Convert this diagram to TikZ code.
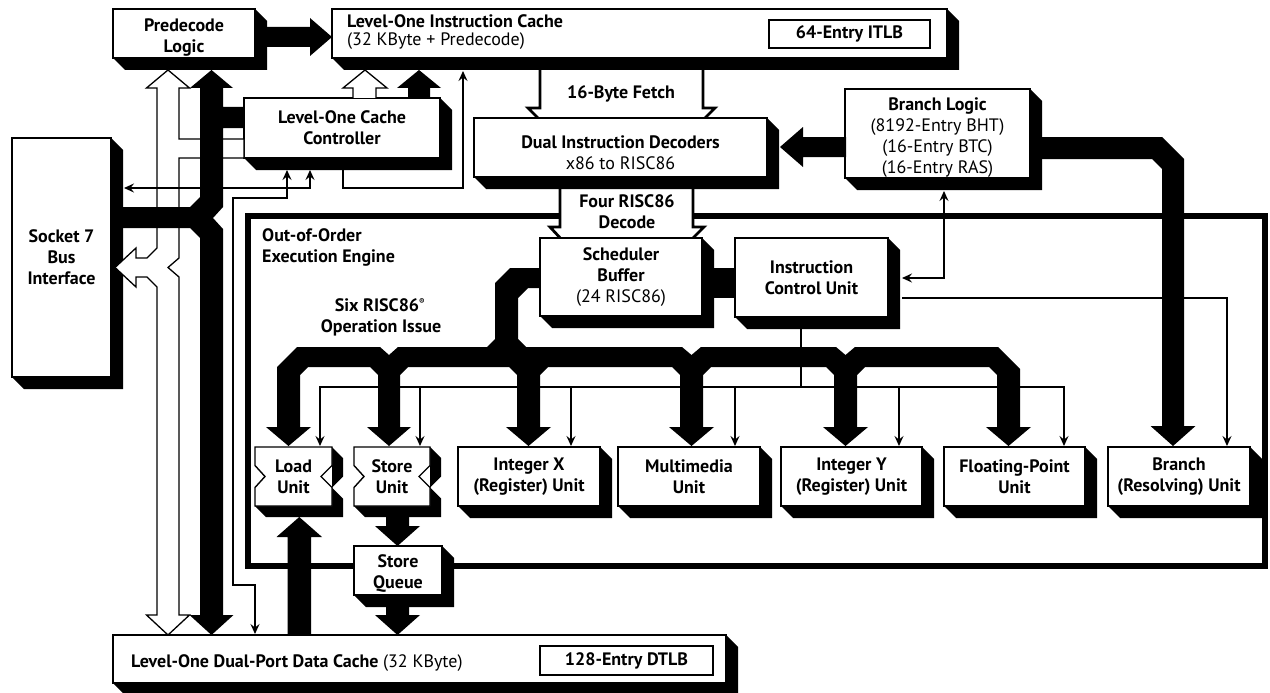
\documentclass[tikz,border=0pt]{standalone}
\usepackage{fontspec}
\setmainfont{PT Sans}
\usetikzlibrary{arrows.meta}
\newcommand{\fs}{\fontsize{18}{21}\selectfont}
% #1 text shift down, #2 name, #3 x1, #4 y1, #5 x2, #6 y2, #7 text
\newcommand{\mybox}[7][0]{%
  \fill[black] (#5,#4) -- ({#5+12},{#4+12}) -- ({#5+12},{#6+12}) -- ({#3+12},{#6+12}) -- (#3,#6) -- (#5,#6) -- cycle;
  \node[bx, minimum width={#5-#3}, minimum height={#6-#4}] (#2) at ({(#3+#5)/2},{(#4+#6)/2}) {};
  \node[lbl] (#2-t) at ([yshift={-(#1)}]#2.center) {#7};}
% #1 name, #2 x1, #3 y1, #4 x2, #5 y2, #6 text
\newcommand{\notchbox}[6]{%
  \pgfmathsetmacro{\ym}{(#3+#5)/2}
  \fill[black] (#4,#3) -- ({#4+11},{#3+11}) -- ({#4+11},{\ym}) -- (#4,{\ym+11}) -- ({#4+11},{\ym+22}) -- ({#4+11},{#5+11}) -- ({#2+11},{#5+11}) -- (#2,#5) -- (#4,#5) -- cycle;
  \draw[fill=white, line width=1.4pt] (#2,#3) -- (#4,#3) -- (#4,{\ym-11}) -- ({#4-11},\ym) -- (#4,{\ym+11}) -- (#4,#5) -- (#2,#5) -- (#2,{\ym+11}) -- ({#2+10},\ym) -- (#2,{\ym-11}) -- cycle;
  \node[lbl] (#1) at ({(#2+#4)/2},\ym) {#6};}
\begin{document}
\begin{tikzpicture}[x=1pt,y=-1pt,
  bx/.style={draw, fill=white, line width=1.4pt, inner sep=0pt, outer sep=0pt},
  lbl/.style={inner sep=0pt, align=center, font=\fs\bfseries},
  wire/.style={line width=1.2pt},
  arr/.style={-{Stealth[length=10pt,width=9pt,inset=3.5pt]}},
  arrs/.style={{Stealth[length=10pt,width=9pt,inset=3.5pt]}-{Stealth[length=10pt,width=9pt,inset=3.5pt]}},
  hollow/.style={draw, fill=white, line width=1.3pt, line join=miter},
  hollowthick/.style={draw, fill=white, line width=2.8pt, line join=miter},
  blk/.style={fill=black}
]
\fill[white] (0,0) rectangle (1270,693);
\useasboundingbox (0,0) rectangle (1270,693);

% ---------- execution engine frame
\draw[line width=6pt] (247.5,215.5) rectangle (1265,565.5);
\node[lbl, anchor=base west] (ooo1) at (262,241) {Out-of-Order};
\node[lbl, anchor=base west] (ooo2) at (262,262) {Execution Engine};
\node[lbl, anchor=base] (six1) at (380,311) {Six RISC86\textsuperscript{\footnotesize ®}};
\node[lbl, anchor=base] (six2) at (381,332) {Operation Issue};

% ---------- wide hollow arrows (under boxes)
\draw[hollowthick] (540,66) -- (540,108) -- (528,108) -- (545,125) -- (698,125) -- (715,108) -- (703,108) -- (703,66);
\node[lbl, anchor=base] (fetch) at (621,99) {16-Byte Fetch};
\draw[hollowthick] (560,184) -- (560,227) -- (550,227) -- (563,241) -- (690,241) -- (704,227) -- (693,227) -- (693,184);
\node[lbl, anchor=base] (four1) at (627,207) {Four RISC86};
\node[lbl, anchor=base] (four2) at (627,228) {Decode};

% ---------- boxes
\mybox{sock}{12}{138}{111}{377}{Socket 7\\Bus\\Interface}
\mybox[4]{pre}{113}{9}{255}{58}{Predecode\\Logic}
\mybox{ic}{332}{9}{947}{58}{}
\node[lbl, anchor=base west] (ic1) at (347,28) {Level-One Instruction Cache};
\node[lbl, anchor=base west] (ic2) at (347,46) {\mdseries (32 KByte + Predecode)};
\node[bx, minimum width=161, minimum height=28] (itlb) at (849.5,34) {};
\node[lbl] (itlb-t) at (itlb.center) {64-Entry ITLB};
\mybox{ctrl}{244}{98}{440}{158}{Level-One Cache\\Controller}
\mybox[5]{dec}{474}{118}{767}{177}{Dual Instruction Decoders\\{\mdseries x86 to RISC86}}
\mybox[4]{brl}{845}{89}{1030}{178}{Branch Logic\\{\mdseries (8192-Entry BHT)}\\{\mdseries (16-Entry BTC)}\\{\mdseries (16-Entry RAS)}}
\mybox{sch}{540}{238}{702}{316}{Scheduler\\Buffer\\{\mdseries (24 RISC86)}}
\mybox{icu}{735}{238}{888}{317}{Instruction\\Control Unit}
\notchbox{load}{255}{447}{332}{506}{Load\\Unit}
\notchbox{store}{354}{447}{430}{506}{Store\\Unit}
\mybox{intx}{458}{447}{600}{506}{Integer X\\(Register) Unit}
\mybox{mm}{618}{447}{760}{506}{Multimedia\\Unit}
\mybox{inty}{781}{447}{922}{506}{Integer Y\\(Register) Unit}
\mybox{fp}{944}{447}{1085}{506}{Floating-Point\\Unit}
\mybox{bru}{1108}{447}{1250}{506}{Branch\\(Resolving) Unit}
\mybox[3]{sq}{354}{546}{442}{595}{Store\\Queue}
\mybox{dc}{113}{635}{726}{683}{}
\node[lbl, anchor=base west] (dc-t) at (131,667) {Level-One Dual-Port Data Cache {\mdseries (32 KByte)}};
\node[bx, minimum width=173, minimum height=29] (dtlb) at (626.5,660.5) {};
\node[lbl] (dtlb-t) at (dtlb.center) {128-Entry DTLB};

% ---------- hollow buses
\draw[hollow] (168,70) -- (189.5,88) -- (179,88) -- (179,139) -- (244,139) -- (244,158) -- (179,158) -- (179,258) -- (168,267.5) -- (179,277) -- (179,615) -- (189.5,615) -- (168,635) -- (146.5,615) -- (157,615) -- (157,287) -- (147,277) -- (136,277) -- (136,287) -- (115,267.5) -- (136,248) -- (136,258) -- (147,258) -- (157,248) -- (157,88) -- (146.5,88) -- cycle;
\draw[hollow] (353,98) -- (353,88) -- (343,88) -- (365,70) -- (387,88) -- (376,88) -- (376,98);

% ---------- thin wires
\draw[wire,arr] (343,170) -- (343,188) -- (463,188) -- (463,71);
\draw[wire,arrs] (124,188) -- (310,188) -- (310,170);
\draw[wire,arrs] (255,634) -- (255,585) -- (233,585) -- (233,198) -- (287,198) -- (287,170);
\draw[wire,arrs] (944,191) -- (944,278) -- (902,278);
\draw[wire,arr] (902,298) -- (1227,298) -- (1227,446);
\draw[wire] (801,329) -- (801,387);
\draw[wire,arr] (801,387) -- (320,387) -- (320,446);
\draw[wire,arr] (801,387) -- (1064,387) -- (1064,446);
\foreach \xx in {420,571,735,899} \draw[wire,arr] (\xx,387) -- (\xx,446);

% ---------- black buses
\fill[blk] (211.5,70) -- (233,88) -- (223,88) -- (223,107) -- (244,107) -- (244,128) -- (223,128) -- (223,207) -- (213,218) -- (223,229) -- (223,615) -- (233.5,615) -- (211.5,635) -- (189.5,615) -- (200,615) -- (200,238) -- (190,228) -- (122,228) -- (122,207) -- (190,207) -- (200,197) -- (200,88) -- (190,88) -- cycle;
\fill[blk] (267,27) -- (310,27) -- (310,18) -- (332,37) -- (310,56) -- (310,47) -- (267,47) -- cycle;
\fill[blk] (408,98) -- (408,88) -- (397,88) -- (419,70) -- (441,88) -- (430,88) -- (430,98) -- cycle;
\fill[blk] (780,147) -- (803,127) -- (803,137) -- (846,137) -- (846,157) -- (803,157) -- (803,167) -- cycle;
\fill[blk] (1042,137) -- (1162,137) -- (1184,159) -- (1184,426) -- (1195.5,426) -- (1173,446) -- (1150.5,426) -- (1162,426) -- (1162,169) -- (1152,159) -- (1042,159) -- cycle;
\fill[blk] (714,268) rectangle (736,298);
\fill[blk] (540,268) -- (540,288) -- (528,288) -- (518,298) -- (518,339) -- (526,347) -- (682,347) -- (691.5,355) -- (701,347) -- (836,347) -- (845.5,355) -- (855,347) -- (998,347) -- (1020,369) -- (1020,427) -- (1031,427) -- (1008.5,446) -- (986,427) -- (997,427) -- (997,375) -- (989,367) -- (865,367) -- (857,375) -- (857,427) -- (868,427) -- (845.5,446) -- (823,427) -- (834,427) -- (834,375) -- (826,367) -- (711,367) -- (703,375) -- (703,427) -- (714,427) -- (691.5,446) -- (669,427) -- (680,427) -- (680,375) -- (672,367) -- (548,367) -- (540,375) -- (540,427) -- (551,427) -- (528.5,446) -- (506,427) -- (517,427) -- (517,375) -- (509,367) -- (408,367) -- (400,375) -- (400,427) -- (411,427) -- (389,446) -- (367,427) -- (378,427) -- (378,375) -- (370,367) -- (308,367) -- (300,375) -- (300,427) -- (311,427) -- (288.5,446) -- (266,427) -- (277,427) -- (277,367) -- (297,347) -- (380,347) -- (389,355) -- (398,347) -- (487,347) -- (495,339) -- (495,283) -- (510,268) -- cycle;
\fill[blk] (386,516) -- (409,516) -- (409,526) -- (420,526) -- (397.5,546) -- (375,526) -- (386,526) -- cycle;
\fill[blk] (386,606) -- (409,606) -- (409,615) -- (420,615) -- (397.5,635) -- (375,615) -- (386,615) -- cycle;
\fill[blk] (287.5,635) -- (311,635) -- (311,537) -- (322,537) -- (299.25,517) -- (276.5,537) -- (287.5,537) -- cycle;
\end{tikzpicture}
\end{document}
